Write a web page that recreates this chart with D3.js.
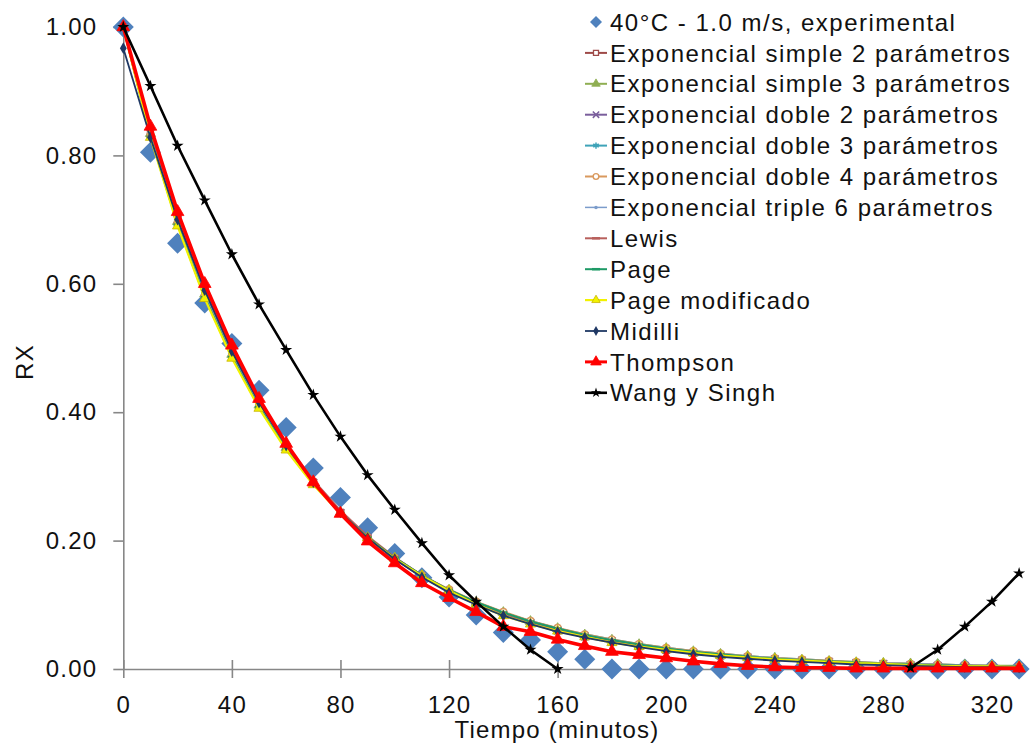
<!DOCTYPE html>
<html><head><meta charset="utf-8">
<script src="https://cdn.jsdelivr.net/npm/d3@7"></script>
<style>
body{margin:0;background:#fff}
text{font-family:"Liberation Sans",Arial,sans-serif;fill:#111}
</style>
</head><body>
<svg id="chart" width="1031" height="756"></svg>
<script>
// ---- data ----
const tiempo = [0,10,20,30,40,50,60,70,80,90,100,110,120,130,140,150,160,170,180,190,200,210,220,230,240,250,260,270,280,290,300,310,320,330];
const xTicks = [0,40,80,120,160,200,240,280,320];
const yTicks = [0,0.2,0.4,0.6,0.8,1.0];

const experimental = [1.000,0.805,0.663,0.570,0.507,0.434,0.376,0.313,0.267,0.220,0.180,0.142,0.112,0.084,0.057,0.045,0.027,0.015,0,0,0,0,0,0,0,0,0,0,0,0,0,0,0,0];
const expSimple2 = [1.000,0.838,0.703,0.590,0.494,0.414,0.347,0.291,0.244,0.205,0.172,0.144,0.121,0.101,0.085,0.071,0.060,0.050,0.042,0.035,0.029,0.025,0.021,0.017,0.015,0.012,0.010,0.009,0.007,0.006,0.005,0.004,0.004,0.003];
const expSimple3 = [1.000,0.834,0.697,0.584,0.490,0.411,0.345,0.290,0.244,0.205,0.173,0.146,0.123,0.104,0.088,0.074,0.063,0.053,0.045,0.038,0.032,0.027,0.023,0.020,0.017,0.014,0.012,0.010,0.009,0.008,0.007,0.006,0.005,0.005];
const expDoble2 = [1.000,0.836,0.700,0.587,0.492,0.412,0.346,0.290,0.243,0.204,0.171,0.144,0.121,0.101,0.085,0.072,0.060,0.051,0.043,0.036,0.030,0.025,0.021,0.018,0.015,0.013,0.011,0.009,0.008,0.006,0.005,0.005,0.004,0.003];
const expDoble3 = [1.000,0.833,0.696,0.583,0.489,0.410,0.344,0.289,0.243,0.205,0.173,0.146,0.123,0.104,0.088,0.075,0.063,0.054,0.046,0.039,0.033,0.028,0.024,0.020,0.017,0.015,0.013,0.011,0.009,0.008,0.007,0.006,0.005,0.004];
const expDoble4 = [1.000,0.831,0.694,0.581,0.487,0.409,0.343,0.289,0.243,0.205,0.173,0.146,0.124,0.105,0.089,0.075,0.064,0.054,0.046,0.039,0.033,0.028,0.024,0.020,0.017,0.015,0.013,0.011,0.009,0.008,0.007,0.006,0.005,0.004];
const expTriple6 = [1.000,0.832,0.695,0.582,0.488,0.410,0.344,0.290,0.244,0.205,0.173,0.146,0.123,0.104,0.088,0.074,0.063,0.053,0.045,0.038,0.032,0.027,0.023,0.020,0.017,0.014,0.012,0.010,0.009,0.008,0.007,0.006,0.005,0.004];
const lewis = [1.000,0.840,0.705,0.592,0.497,0.417,0.350,0.294,0.247,0.207,0.174,0.146,0.123,0.103,0.087,0.073,0.061,0.051,0.043,0.036,0.030,0.026,0.022,0.018,0.015,0.013,0.011,0.009,0.008,0.006,0.005,0.005,0.004,0.003];
const page = [1.000,0.829,0.692,0.579,0.486,0.408,0.343,0.288,0.243,0.205,0.173,0.146,0.123,0.104,0.088,0.074,0.063,0.053,0.045,0.038,0.032,0.027,0.023,0.019,0.016,0.014,0.012,0.010,0.008,0.007,0.006,0.005,0.004,0.004];
const pageModificado = [1.000,0.828,0.690,0.577,0.484,0.406,0.341,0.287,0.242,0.204,0.172,0.145,0.122,0.101,0.083,0.070,0.059,0.050,0.041,0.035,0.030,0.025,0.021,0.018,0.015,0.013,0.011,0.009,0.008,0.006,0.005,0.004,0.004,0.003];
const midilli = [0.967,0.828,0.700,0.590,0.495,0.415,0.348,0.291,0.244,0.204,0.171,0.143,0.119,0.100,0.083,0.070,0.058,0.049,0.041,0.034,0.028,0.023,0.019,0.016,0.013,0.011,0.009,0.007,0.006,0.005,0.004,0.003,0.003,0.002];
const thompson = [1.000,0.845,0.712,0.600,0.504,0.421,0.351,0.291,0.242,0.199,0.165,0.134,0.111,0.089,0.066,0.058,0.046,0.036,0.027,0.022,0.017,0.012,0.008,0.005,0.003,0.002,0.002,0.001,0.001,0.001,0.001,0.001,0.001,0.001];
const wangSingh = [1.000,0.908,0.815,0.730,0.646,0.568,0.497,0.427,0.362,0.302,0.248,0.196,0.146,0.105,0.066,0.030,0.000,null,null,null,null,null,null,null,null,null,null,null,null,0.002,0.030,0.066,0.105,0.149];

const expName = "40°C - 1.0 m/s, experimental";
const seriesNames = ["Exponencial simple 2 parámetros","Exponencial simple 3 parámetros","Exponencial doble 2 parámetros","Exponencial doble 3 parámetros","Exponencial doble 4 parámetros","Exponencial triple 6 parámetros","Lewis","Page","Page modificado","Midilli","Thompson","Wang y Singh"];
const seriesValues = [expSimple2,expSimple3,expDoble2,expDoble3,expDoble4,expTriple6,lewis,page,pageModificado,midilli,thompson,wangSingh];

// ---- styles ----
const styles = [
  {color:"#9E4A48", marker:"square", width:2},
  {color:"#8FAE52", marker:"triangle", width:2},
  {color:"#7A5E9C", marker:"x", width:2},
  {color:"#3FA3B8", marker:"asterisk", width:2},
  {color:"#D9995E", marker:"circle", width:2},
  {color:"#7B9CCB", marker:"dot", width:1.5},
  {color:"#B8605C", marker:"dash", width:2},
  {color:"#1E9A66", marker:"dash", width:2},
  {color:"#F2F200", marker:"triangle", width:2.2},
  {color:"#1F3864", marker:"diamond", width:1.8},
  {color:"#FF0000", marker:"triangle", width:3.6},
  {color:"#000000", marker:"star", width:2.6}
];

const svg = d3.select("#chart");
const W = 1031, H = 756;
const x = d3.scaleLinear().domain([0,330]).range([123.3,1019.1]);
const y = d3.scaleLinear().domain([0,1]).range([669,27]);
const axisColor = "#878787";

// axes
const gx = svg.append("g").attr("transform",`translate(0,${y(0)})`)
  .call(d3.axisBottom(x).tickValues(xTicks).tickSizeInner(10).tickSizeOuter(0).tickFormat(d3.format("d")));
gx.select(".domain").attr("stroke",axisColor).attr("stroke-width",1.6);
gx.selectAll(".tick line").attr("stroke",axisColor).attr("stroke-width",1.6).attr("y1",-9).attr("y2",9);
gx.selectAll(".tick text").attr("y",44).attr("dy",0).attr("font-size",24).attr("letter-spacing","1.2px")
  .attr("font-family","Liberation Sans, Arial, sans-serif").attr("fill","#111");

const gy = svg.append("g").attr("transform",`translate(${x(0)},0)`)
  .call(d3.axisLeft(y).tickValues(yTicks).tickSizeInner(10).tickSizeOuter(0).tickPadding(16).tickFormat(d3.format(".2f")));
gy.select(".domain").attr("stroke",axisColor).attr("stroke-width",1.6);
gy.selectAll(".tick line").attr("stroke",axisColor).attr("stroke-width",1.6);
gy.selectAll(".tick text").attr("font-size",24).attr("letter-spacing","1.2px")
  .attr("font-family","Liberation Sans, Arial, sans-serif").attr("fill","#111");

// axis titles
svg.append("text").attr("x",557).attr("y",738).attr("text-anchor","middle")
  .attr("font-size",24).attr("letter-spacing","1.2px").text("Tiempo (minutos)");
svg.append("text").attr("transform","translate(33,362) rotate(-90)").attr("text-anchor","middle")
  .attr("font-size",24).attr("letter-spacing","1.2px").text("RX");

// marker drawing helper
function drawMarker(g, type, color, cx, cy, scale){
  const s = scale||1;
  const t = `translate(${cx},${cy})`;
  if(type==="square"){
    g.append("path").attr("d",d3.symbol(d3.symbolSquare,36*s)()).attr("transform",t)
      .attr("fill","#fff").attr("stroke",color).attr("stroke-width",1.3);
  } else if(type==="triangle"){
    g.append("path").attr("d",d3.symbol(d3.symbolTriangle,(color==="#FF0000"?70:45)*s)()).attr("transform",t)
      .attr("fill",color).attr("stroke",color==="#F2F200"?"#C8B400":color).attr("stroke-width",0.8);
  } else if(type==="x"){
    g.append("path").attr("d",d3.symbol(d3.symbolTimes,40*s)()).attr("transform",t)
      .attr("fill","none").attr("stroke",color).attr("stroke-width",1.5);
  } else if(type==="asterisk"){
    g.append("path").attr("d",d3.symbol(d3.symbolAsterisk,40*s)()).attr("transform",t)
      .attr("fill","none").attr("stroke",color).attr("stroke-width",1.5);
  } else if(type==="circle"){
    g.append("path").attr("d",d3.symbol(d3.symbolCircle,36*s)()).attr("transform",t)
      .attr("fill","#fff").attr("stroke",color).attr("stroke-width",1.4);
  } else if(type==="dot"){
    g.append("path").attr("d",d3.symbol(d3.symbolCircle,14*s)()).attr("transform",t)
      .attr("fill",color);
  } else if(type==="dash"){
    g.append("path").attr("d","M-4,0H4").attr("transform",t)
      .attr("stroke",color).attr("stroke-width",2.5);
  } else if(type==="diamond"){
    g.append("path").attr("d",d3.symbol(d3.symbolDiamond,40*s)()).attr("transform",t)
      .attr("fill",color);
  } else if(type==="star"){
    g.append("path").attr("d",d3.symbol(d3.symbolStar,45*s)()).attr("transform",t)
      .attr("fill",color);
  } else if(type==="bigdiamond"){
    g.append("path").attr("d","M0,-10.5L10.5,0L0,10.5L-10.5,0Z").attr("transform",t)
      .attr("fill","#4F81BD");
  }
}

// experimental points (drawn first, behind)
const gExp = svg.append("g");
experimental.forEach((v,i)=>{
  if(v!==null) drawMarker(gExp,"bigdiamond",null,x(tiempo[i]),y(v));
});

// model series
const line = d3.line().defined(d=>d[1]!==null).x(d=>x(d[0])).y(d=>y(d[1]));
seriesValues.forEach((vals,si)=>{
  const st = styles[si];
  const g = svg.append("g");
  const pts = tiempo.map((t,i)=>[t,vals[i]]);
  g.append("path").attr("d",line(pts)).attr("fill","none")
    .attr("stroke",st.color).attr("stroke-width",st.width).attr("stroke-linejoin","round");
  pts.forEach(p=>{ if(p[1]!==null) drawMarker(g,st.marker,st.color,x(p[0]),y(p[1])); });
});

// legend
const lg = svg.append("g");
const legendY0 = 22, legendDy = 30.9;
const legendNames = [expName].concat(seriesNames);
legendNames.forEach((name,i)=>{
  const cy = legendY0 + i*legendDy;
  if(i===0){
    lg.append("path").attr("d","M0,-6L6,0L0,6L-6,0Z").attr("transform",`translate(596,${cy})`).attr("fill","#4F81BD");
  } else {
    const st = styles[i-1];
    lg.append("line").attr("x1",585).attr("x2",607).attr("y1",cy).attr("y2",cy)
      .attr("stroke",st.color).attr("stroke-width",Math.min(st.width,3));
    drawMarker(lg,st.marker,st.color,596,cy,0.7);
  }
  lg.append("text").attr("x",610).attr("y",cy).attr("dy","0.36em")
    .attr("font-size",24).attr("letter-spacing","1.5px").text(name);
});
</script>
</body></html>
